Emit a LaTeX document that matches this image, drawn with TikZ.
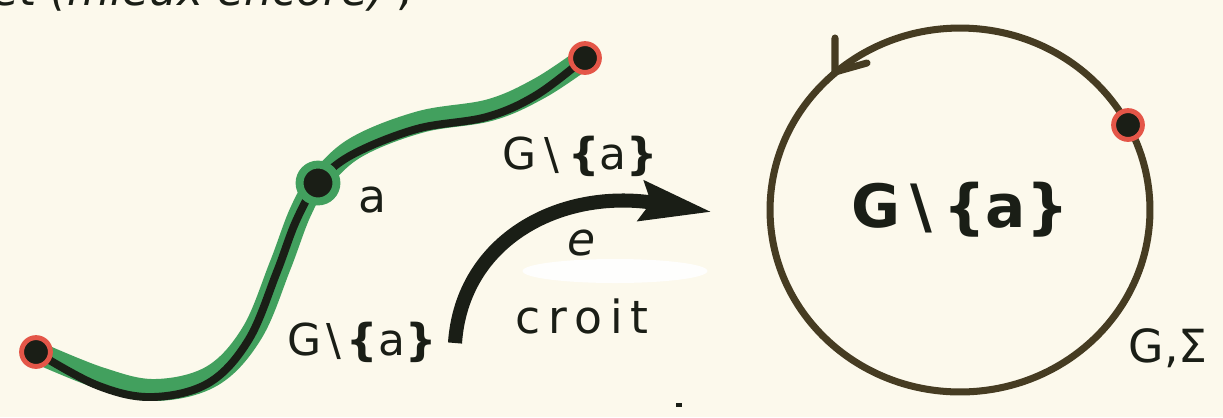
\documentclass[tikz,border=0pt]{standalone}
\usepackage{fontspec}
\setmainfont{DejaVu Sans}
\usetikzlibrary{arrows.meta}
\definecolor{paperCream}{RGB}{252,249,236}
\definecolor{inkBlack}{RGB}{26,30,22}
\definecolor{inkBrown}{RGB}{70,60,34}
\definecolor{markerGreen}{RGB}{66,160,94}
\definecolor{markerRed}{RGB}{228,86,72}
\newcommand{\Gminus}[1]{G\hspace{#1}\textbackslash\hspace{#1}{\bfseries\{}a{\bfseries\}}}

\begin{document}
\begin{tikzpicture}[x=0.02cm,y=-0.02cm,
  enddot/.style={circle,fill=inkBlack,draw=markerRed,line width=2.8pt,minimum size=16.4pt,inner sep=0pt},
  middot/.style={circle,fill=inkBlack,draw=markerGreen,line width=4.5pt,minimum size=21pt,inner sep=0pt},
  hand/.style={text=inkBlack,inner sep=0pt},
  greenline/.style={markerGreen,line width=12.5pt,line cap=round},
  coreline/.style={inkBlack,line width=4.5pt,line cap=round},
  ring/.style={inkBrown,line width=4pt,line cap=round}]
\fill[paperCream] (0,0) rectangle (1223,417);
\useasboundingbox (0,0) rectangle (1223,417);
% scrap of the line above
\node[hand,anchor=base west,font=\itshape\fontsize{25}{25}\selectfont] (top) at (-8,5) {et (mieux encore) ,};
% the path through a
\coordinate (s) at (36,352);
\coordinate (m) at (318,183);
\coordinate (e) at (585,58);
\draw[greenline] plot[smooth,tension=0.6] coordinates {(s) (100,378) (155,390) (212,376) (252,333) (280,266) (300,213) (m) (355,148) (420,122) (490,110) (540,88) (e)};
\draw[coreline,xshift=-2pt,yshift=-4pt] plot[smooth,tension=0.6] coordinates {(s) (100,378) (155,390) (212,376) (252,333) (280,266) (300,213) (m) (355,148) (420,122) (490,110) (540,88) (e)};
\node[enddot] (p) at (s) {};
\node[enddot] (q) at (e) {};
\node[middot] (apt) at (m) {};
\node[hand,font=\fontsize{26}{26}\selectfont] (alab) at (372,200) {a};
\node[hand,font=\fontsize{25}{25}\selectfont] (gup) at (580,156) {\Gminus{5pt}};
\node[hand,font=\fontsize{25}{25}\selectfont] (glow) at (362,342) {\Gminus{3pt}};
% the map e
\fill[white,opacity=0.9] (615,271) ellipse [x radius=1.85cm,y radius=0.24cm];
\coordinate (arcs) at (455,343);
\coordinate (arce) at (712,212);
\draw[inkBlack,line width=8pt,-{Stealth[length=40pt,width=22pt,inset=5pt]}] (arcs) .. controls (462,240) and (560,188) .. (arce);
\node[hand,font=\itshape\fontsize{26}{26}\selectfont] (elab) at (582,243) {e};
\node[hand,font=\fontsize{26}{26}\selectfont] (croit) at (582,316) {c\,r\,o\,i\,t};
% the circle
\node (c) at (960,210) {};
\draw[ring] (c.center) ellipse [x radius=3.8cm,y radius=3.64cm];
\coordinate (j) at (835,72);
\draw[ring] (j) -- ++(0,-34) (j) -- ++(32,-9);
\node[enddot] (r) at (1128,125) {};
\node[hand,font=\bfseries\fontsize{34}{34}\selectfont] (gmid) at (c) {\Gminus{6pt}};
\node[hand,font=\fontsize{26}{26}\selectfont] (gs) at (1168,348) {G,Σ};
\fill[inkBlack] (676,403) rectangle (682,407);
\end{tikzpicture}
\end{document}
